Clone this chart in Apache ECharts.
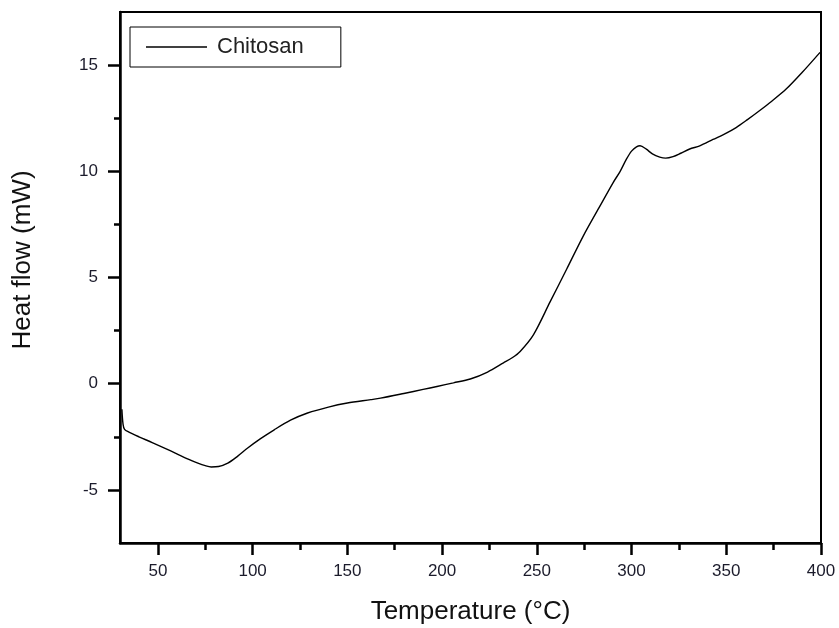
<!DOCTYPE html>
<html>
<head>
<meta charset="utf-8">
<script src="https://cdn.jsdelivr.net/npm/echarts@6/dist/echarts.min.js"></script>
<style>html,body{margin:0;padding:0;background:#fff}#c{width:839px;height:628px}</style>
</head>
<body>
<div id="c"></div>
<script>
// Data
const seriesName = 'Chitosan';
const temperature = [31.0, 31.6, 32.4, 34.7, 40, 47, 53.5, 60, 66, 71.1, 75, 78.1, 82, 86.9, 92, 97.4, 104, 111.4, 120, 129, 140, 150, 162.4, 167.5, 179.8, 190, 197.3, 206, 214.9, 224, 232.4, 237, 241.2, 248.2, 257, 265.8, 274.5, 283.3, 290.3, 294, 297.3, 300, 302.6, 304.5, 307.8, 311, 314.9, 318, 321.9, 326, 330.7, 336, 343, 349, 355.2, 361, 367.5, 374, 381.6, 390, 399.5];
const heatFlow = [-1.2, -1.9, -2.15, -2.28, -2.5, -2.77, -3.03, -3.3, -3.55, -3.74, -3.86, -3.92, -3.9, -3.74, -3.42, -3.03, -2.6, -2.17, -1.72, -1.38, -1.1, -0.91, -0.75, -0.68, -0.46, -0.27, -0.13, 0.04, 0.22, 0.55, 0.98, 1.22, 1.52, 2.3, 3.85, 5.4, 6.95, 8.36, 9.47, 10.0, 10.57, 10.95, 11.15, 11.2, 11.04, 10.82, 10.67, 10.62, 10.69, 10.85, 11.05, 11.2, 11.5, 11.75, 12.06, 12.42, 12.85, 13.3, 13.87, 14.65, 15.6];
const xMajorTicks = [50, 100, 150, 200, 250, 300, 350, 400];
const xMinorTicks = [75, 125, 175, 225, 275, 325, 375];
const yMajorTicks = [-5, 0, 5, 10, 15];
const yMinorTicks = [-2.5, 2.5, 7.5, 12.5];
const xRange = [30, 400];
const yRange = [-7.5, 17.5];
const xTitle = 'Temperature (\u00B0C)';
const yTitle = 'Heat flow (mW)';

const points = temperature.map((t, i) => [t, heatFlow[i]]);
const FONT = '"Liberation Sans", Arial, sans-serif';
const labelStyle = { fontFamily: FONT, fontSize: 17, color: '#1b1b2b' };

const chart = echarts.init(document.getElementById('c'), null, { renderer: 'canvas' });
chart.setOption({
  backgroundColor: '#fff',
  animation: false,
  grid: { left: 120, right: 18, top: 12, bottom: 85, containLabel: false, outerBoundsMode: 'none', show: true, borderColor: '#000', borderWidth: 2, backgroundColor: 'transparent' },
  legend: {
    left: 130, top: 27,
    data: [{ name: seriesName, icon: 'rect' }],
    orient: 'horizontal',
    padding: [9, 37, 9, 16],
    itemWidth: 61, itemHeight: 1.5,
    borderColor: '#000', borderWidth: 1,
    itemStyle: { color: '#000' },
    textStyle: { fontFamily: FONT, fontSize: 22, color: '#222', padding: [0, 0, 0, 5] }
  },
  graphic: [{
    type: 'text', x: 23, y: 260, rotation: Math.PI / 2,
    style: { text: yTitle, fontFamily: FONT, fontSize: 26, fill: '#111', align: 'center', verticalAlign: 'middle' }
  }],
  xAxis: [{
    type: 'value', min: xRange[0], max: xRange[1],
    name: xTitle, nameLocation: 'middle', nameGap: 56,
    nameTextStyle: { fontFamily: FONT, fontSize: 26, color: '#111' },
    axisLine: { show: true, onZero: false, lineStyle: { color: '#000', width: 2.5 } },
    axisTick: { show: true, customValues: xMajorTicks, length: 12, inside: false, lineStyle: { color: '#000', width: 2.5 } },
    axisLabel: { customValues: xMajorTicks, margin: 20, ...labelStyle },
    splitLine: { show: false }
  }, {
    type: 'value', min: xRange[0], max: xRange[1], position: 'bottom',
    axisLine: { show: false, onZero: false },
    axisTick: { show: true, customValues: xMinorTicks, length: 7, lineStyle: { color: '#000', width: 2.5 } },
    axisLabel: { show: false },
    splitLine: { show: false }
  }],
  yAxis: [{
    type: 'value', min: yRange[0], max: yRange[1],
    axisLine: { show: true, onZero: false, lineStyle: { color: '#000', width: 2.5 } },
    axisTick: { show: true, customValues: yMajorTicks, length: 12, lineStyle: { color: '#000', width: 2.5 } },
    axisLabel: { customValues: yMajorTicks, margin: 22, ...labelStyle },
    splitLine: { show: false }
  }, {
    type: 'value', min: yRange[0], max: yRange[1], position: 'left',
    axisLine: { show: false, onZero: false },
    axisTick: { show: true, customValues: yMinorTicks, length: 6, lineStyle: { color: '#000', width: 2.5 } },
    axisLabel: { show: false },
    splitLine: { show: false }
  }],
  series: [{
    name: seriesName, type: 'line', data: points,
    xAxisIndex: 0, yAxisIndex: 0,
    symbol: 'none', smooth: 0.3,
    lineStyle: { color: '#000', width: 1.4 },
    itemStyle: { color: '#000' }
  }]
});
</script>
</body>
</html>
